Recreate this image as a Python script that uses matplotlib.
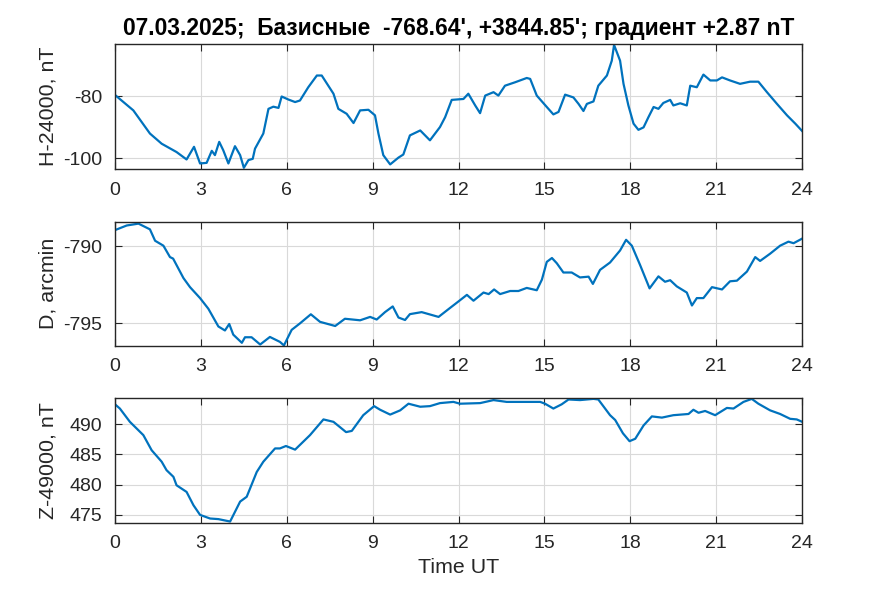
import matplotlib.pyplot as plt

plt.rcParams['font.family'] = ['Liberation Sans', 'DejaVu Sans']
plt.rcParams['axes.unicode_minus'] = False

# H-24000, nT
h_t = [0, 0.64, 1.22, 1.63, 2.15, 2.5, 2.76, 2.97, 3.2, 3.38, 3.49, 3.64, 3.78, 3.96,
       4.19, 4.37, 4.5, 4.66, 4.81, 4.89, 5.18, 5.36, 5.53, 5.71, 5.82, 6.06, 6.29, 6.46,
       6.75, 7.05, 7.22, 7.63, 7.8, 8.09, 8.33, 8.56, 8.85, 9.08, 9.2, 9.37, 9.61, 9.9,
       10.07, 10.3, 10.66, 11.0, 11.35, 11.53, 11.76, 12.17, 12.34, 12.58, 12.75, 12.93,
       13.22, 13.39, 13.62, 13.97, 14.38, 14.5, 14.73, 15.08, 15.31, 15.49, 15.72, 16.01,
       16.19, 16.36, 16.48, 16.71, 16.88, 17.18, 17.35, 17.43, 17.64, 17.76, 17.93, 18.11,
       18.28, 18.46, 18.63, 18.81, 18.98, 19.15, 19.39, 19.5, 19.74, 19.97, 20.09, 20.32,
       20.55, 20.79, 21.02, 21.2, 21.48, 21.83, 22.18, 22.47, 22.77, 23.12, 23.47, 23.76, 24.0]
h_v = [-79.5, -84.5, -92, -95.3, -98, -100.4, -96.3, -101.7, -101.5, -97.6, -99, -94.7, -97.4, -101.7,
       -96.1, -99, -103.1, -100.6, -100.2, -96.9, -92, -84, -83.3, -83.7, -80, -81, -81.8, -81.3,
       -77, -73.2, -73.2, -79.1, -84, -85.6, -88.6, -84.5, -84.3, -86.1, -92, -99, -102, -99.8,
       -98.8, -92.6, -91, -94.2, -89.9, -86.7, -81.1, -80.8, -79.1, -82.9, -85.4, -79.7,
       -78.6, -79.7, -76.5, -75.4, -74, -74.3, -79.7, -83.4, -85.8, -85, -79.4, -80.3,
       -82.4, -84.7, -82.4, -81.6, -76.5, -73.2, -68.4, -63.3, -68.4, -75.9, -82.9, -88.8,
       -90.8, -90, -86.7, -83.4, -84, -82.1, -81.1, -82.9, -82.2, -82.9, -76.5, -77,
       -72.9, -74.8, -74.8, -73.8, -74.8, -75.9, -75.2, -75.2, -78.6, -82.4, -86.1, -88.8, -91.2]

# D, arcmin
d_t = [0, 0.41, 0.82, 1.22, 1.4, 1.69, 1.92, 2.03, 2.39, 2.62, 2.97, 3.26, 3.61, 3.84, 3.99,
       4.13, 4.43, 4.54, 4.77, 5.07, 5.41, 5.76, 5.9, 6.17, 6.46, 6.84, 7.16, 7.69, 8.03,
       8.56, 8.91, 9.14, 9.43, 9.7, 9.9, 10.13, 10.3, 10.71, 11.3, 11.7, 12.0, 12.29, 12.52,
       12.87, 13.05, 13.24, 13.45, 13.8, 14.09, 14.38, 14.73, 14.91, 15.08, 15.26, 15.43,
       15.66, 15.95, 16.24, 16.54, 16.69, 16.94, 17.29, 17.64, 17.85, 18.05, 18.34, 18.67,
       18.98, 19.21, 19.39, 19.62, 19.97, 20.15, 20.32, 20.55, 20.85, 21.2, 21.48, 21.72,
       22.07, 22.36, 22.53, 22.88, 23.23, 23.52, 23.7, 24.0]
d_v = [-788.95, -788.65, -788.53, -788.9, -789.64, -789.96, -790.7, -790.8, -792.06, -792.65,
       -793.36, -794.05, -795.2, -795.46, -795.04, -795.73, -796.26, -795.9, -795.9, -796.37,
       -795.88, -796.2, -796.43, -795.42, -795.0, -794.41, -794.9, -795.17, -794.7, -794.8,
       -794.58, -794.75, -794.27, -793.9, -794.62, -794.78, -794.4, -794.27, -794.58, -794.0,
       -793.57, -793.15, -793.53, -793.0, -793.1, -792.8, -793.1, -792.9, -792.9, -792.7,
       -792.85, -792.16, -791.01, -790.76, -791.1, -791.7, -791.7, -792.02, -791.97, -792.44,
       -791.53, -791.05, -790.27, -789.58, -789.96, -791.22, -792.73, -791.95, -792.3, -792.2,
       -792.6, -793.0, -793.84, -793.36, -793.36, -792.65, -792.8, -792.27, -792.23, -791.64,
       -790.7, -790.95, -790.48, -789.96, -789.7, -789.8, -789.5]

# Z-49000, nT
z_t = [0, 0.17, 0.52, 0.99, 1.28, 1.63, 1.8, 2.04, 2.15, 2.5, 2.74, 2.97, 3.32, 3.61, 4.02,
       4.37, 4.6, 4.95, 5.18, 5.59, 5.76, 5.97, 6.29, 6.81, 7.28, 7.63, 8.07, 8.27, 8.67,
       9.05, 9.26, 9.61, 9.96, 10.25, 10.66, 11.0, 11.35, 11.82, 12.05, 12.75, 13.22, 13.68,
       14.38, 14.85, 15.02, 15.31, 15.6, 15.84, 16.24, 16.71, 16.88, 17.29, 17.47, 17.74,
       17.97, 18.17, 18.46, 18.75, 19.1, 19.5, 20.03, 20.2, 20.38, 20.61, 20.96, 21.37,
       21.6, 21.95, 22.24, 22.47, 22.88, 23.23, 23.58, 23.81, 24.0]
z_v = [493.3, 492.6, 490.4, 488.2, 485.7, 483.8, 482.4, 481.3, 479.9, 478.8, 476.6, 475.0,
       474.4, 474.3, 473.9, 477.2, 478.0, 482.1, 483.8, 486.0, 486.0, 486.4, 485.8, 488.2,
       490.8, 490.4, 488.7, 488.9, 491.5, 493.0, 492.4, 491.6, 492.3, 493.4, 492.9, 493.0,
       493.5, 493.7, 493.4, 493.5, 494.0, 493.7, 493.7, 493.7, 493.4, 492.6, 493.3, 494.1,
       494.0, 494.2, 494.1, 491.5, 490.7, 488.5, 487.2, 487.6, 489.8, 491.3, 491.1, 491.5,
       491.7, 492.4, 491.9, 492.2, 491.5, 492.7, 492.6, 493.7, 494.2, 493.4, 492.3, 491.7,
       490.9, 490.8, 490.4]

title = "07.03.2025;  Базисные  -768.64', +3844.85'; градиент +2.87 nT"
xticks = [0, 3, 6, 9, 12, 15, 18, 21, 24]

blue = (0, 0.447, 0.741)
axc = (0.15, 0.15, 0.15)

fig = plt.figure(figsize=(8.86, 5.91), dpi=100)
boxes = [[0.1298, 0.714, 0.7756, 0.2115],
         [0.1298, 0.415, 0.7756, 0.2100],
         [0.1298, 0.1155, 0.7756, 0.2106]]
panels = [(h_t, h_v, (-103.5, -63.0), [-100, -80], 'H-24000, nT'),
          (d_t, d_v, (-796.45, -788.4), [-795, -790], 'D, arcmin'),
          (z_t, z_v, (473.7, 494.3), [475, 480, 485, 490], 'Z-49000, nT')]

for i, (box, (t, v, yl, yt, lab)) in enumerate(zip(boxes, panels)):
    ax = fig.add_axes(box)
    ax.plot(t, v, color=blue, lw=1.6)
    ax.set_xlim(0, 24)
    ax.set_ylim(*yl)
    ax.set_xticks(xticks)
    ax.set_yticks(yt)
    ax.grid(True, color=(0.85, 0.85, 0.85), lw=0.8)
    ax.set_axisbelow(True)
    ax.tick_params(direction='in', length=5, top=True, right=True, labelsize=14,
                   colors=axc, pad=9)
    for s in ax.spines.values():
        s.set_color(axc)
        s.set_linewidth(1.0)
    ax.set_ylabel(lab, fontsize=15.4, color=axc)
    ax.yaxis.set_label_coords(-0.084, 0.5)
    if i == 0:
        ax.set_title(title, fontsize=16.4, fontweight='bold', pad=6.5)
    if i == 2:
        ax.set_xlabel('Time UT', fontsize=15.4, color=axc, labelpad=4.5)

fig.savefig('out.png', dpi=100)
